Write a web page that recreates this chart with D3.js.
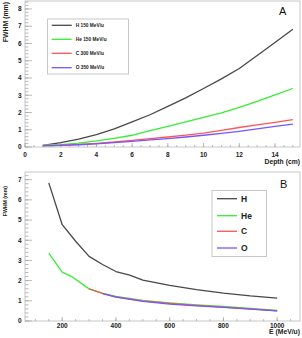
<!DOCTYPE html>
<html><head><meta charset="utf-8">
<script src="https://cdn.jsdelivr.net/npm/d3@7"></script>
<style>body{margin:0;background:#fff}svg{display:block}text{font-family:"Liberation Sans",Arial,sans-serif}</style>
</head><body>
<script>
// Panel A: FWHM vs depth
const depth = [1,2,3,4,5,6,7,8,9,10,11,12,13,14,15];
const aH  = [0.1,0.25,0.45,0.72,1.05,1.45,1.87,2.35,2.85,3.39,3.95,4.55,5.3,6.05,6.82];
const aHe = [0.1,0.14,0.23,0.35,0.5,0.68,0.95,1.2,1.45,1.71,1.98,2.29,2.65,3.02,3.39];
const aC  = [0.08,0.1,0.15,0.21,0.29,0.38,0.48,0.58,0.69,0.81,0.96,1.13,1.28,1.43,1.59];
const aO  = [0.07,0.09,0.13,0.18,0.25,0.33,0.41,0.49,0.58,0.68,0.79,0.91,1.05,1.19,1.32];
const legendA = ["H 150 MeV/u","He 150 MeV/u","C 300 MeV/u","O 350 MeV/u"];
// Panel B: FWHM vs energy
const eH  = [150,200,250,300,350,400,451,500,600,700,800,900,1000];
const bH  = [6.84,4.77,3.95,3.2,2.8,2.45,2.27,2.03,1.76,1.55,1.38,1.24,1.13];
const eHe = [150,200,235,300,350,400,500,600,700,800,900,1000];
const bHe = [3.36,2.42,2.2,1.59,1.37,1.22,1.02,0.9,0.8,0.72,0.62,0.52];
const eC  = [300,350,400,500,600,700,800,900,1000];
const bC  = [1.59,1.37,1.2,1.0,0.87,0.77,0.69,0.6,0.5];
const eO  = [350,400,500,600,700,800,900,1000];
const bO  = [1.35,1.18,0.97,0.84,0.75,0.67,0.59,0.5];
const legendB = ["H","He","C","O"];
const colors = ["#484848","#33ee33","#ff5555","#7755ff"];
const yTicksA = [0,1,2,3,4,5,6,7,8];
const xTicksA = [0,2,4,6,8,10,12,14];
const yTicksB = [0,1,2,3,4,5,6,7];
const xTicksB = [200,400,600,800,1000];

const W=302,H=338;
const svg=d3.select("body").append("svg").attr("width",W).attr("height",H);

function panel(opt){
  const g=svg.append("g");
  const x=d3.scaleLinear().domain(opt.xd).range([opt.x0,opt.x1]);
  const y=d3.scaleLinear().domain(opt.yd).range([opt.y1,opt.y0]);
  g.append("rect").attr("x",opt.x0).attr("y",opt.y0).attr("width",opt.x1-opt.x0).attr("height",opt.y1-opt.y0)
    .attr("fill","none").attr("stroke","#c8c8c8").attr("stroke-width",1);
  const yMinor=d3.range(opt.yd[0],opt.yd[1]+1e-9,opt.yMinorStep);
  g.selectAll(".ym").data(yMinor).join("line")
    .attr("x1",opt.x0).attr("x2",opt.x0+3.5).attr("y1",d=>y(d)).attr("y2",d=>y(d)).attr("stroke","#aaa").attr("stroke-width",0.8);
  g.selectAll(".yM").data(opt.yTicks).join("line")
    .attr("x1",opt.x0).attr("x2",opt.x0+7).attr("y1",d=>y(d)).attr("y2",d=>y(d)).attr("stroke","#aaa").attr("stroke-width",0.8);
  g.selectAll(".yl").data(opt.yTicks).join("text")
    .attr("x",opt.x0-3.5).attr("y",d=>y(d)).attr("dy","0.35em").attr("text-anchor","end")
    .attr("font-size",6.5).attr("font-weight","bold").attr("fill","#222").text(d=>d);
  const xs=Math.ceil(opt.xd[0]/opt.xMinorStep)*opt.xMinorStep;
  const xMinor=d3.range(xs,opt.xd[1]+1e-9,opt.xMinorStep);
  g.selectAll(".xm").data(xMinor).join("line")
    .attr("x1",d=>x(d)).attr("x2",d=>x(d)).attr("y1",opt.y1).attr("y2",opt.y1-2).attr("stroke","#aaa").attr("stroke-width",0.8);
  g.selectAll(".xM").data(opt.xTicks).join("line")
    .attr("x1",d=>x(d)).attr("x2",d=>x(d)).attr("y1",opt.y1).attr("y2",opt.y1-4).attr("stroke","#aaa").attr("stroke-width",0.8);
  g.selectAll(".xl").data(opt.xTicks).join("text")
    .attr("x",d=>x(d)).attr("y",opt.y1+opt.xlOff).attr("text-anchor","middle")
    .attr("font-size",6.5).attr("font-weight","bold").attr("fill","#222").text(d=>d);
  g.append("text").attr("x",opt.x1).attr("y",opt.xtY).attr("text-anchor","end")
    .attr("font-size",6.8).attr("font-weight","bold").attr("fill","#222").text(opt.xTitle);
  g.append("text").attr("transform",`translate(${opt.ytX},${opt.ytY}) rotate(-90)`).attr("text-anchor","end")
    .attr("font-size",opt.ytSize).attr("font-weight","bold").attr("fill","#222").text("FWHM (mm)");
  const line=d3.line().x(d=>x(d[0])).y(d=>y(d[1]));
  opt.series.forEach((s,i)=>{
    g.append("path").datum(d3.zip(s[0],s[1])).attr("d",line).attr("fill","none")
      .attr("stroke",colors[i]).attr("stroke-width",1.3).attr("stroke-linejoin","round");
  });
  g.append("text").attr("x",opt.labX).attr("y",opt.labY).attr("font-size",11).attr("fill","#111").text(opt.label);
  return g;
}

const gA=panel({x0:25,x1:300,y0:1,y1:147,xd:[0,15.4],yd:[0,8.46],yTicks:yTicksA,xTicks:xTicksA,
  yMinorStep:0.2,xMinorStep:0.5,xlOff:10,xTitle:"Depth (cm)",xtY:164,ytX:7.5,ytY:2,ytSize:6.9,
  series:[[depth,aH],[depth,aHe],[depth,aC],[depth,aO]],label:"A",labX:279,labY:15});
const gB=panel({x0:25,x1:300,y0:172,y1:321,xd:[61.5,1085],yd:[0,7.38],yTicks:yTicksB,xTicks:xTicksB,
  yMinorStep:0.2,xMinorStep:50,xlOff:6.5,xTitle:"E (MeV/u)",xtY:334,ytX:7,ytY:186,ytSize:5.2,
  series:[[eH,bH],[eHe,bHe],[eC,bC],[eO,bO]],label:"B",labX:280,labY:188});

function legend(g,bx,by,bw,bh,rows,lx0,lx1,tx,labels,fs){
  g.append("rect").attr("x",bx).attr("y",by).attr("width",bw).attr("height",bh)
    .attr("fill","#fff").attr("stroke","#c8c8c8").attr("stroke-width",1);
  labels.forEach((t,i)=>{
    g.append("line").attr("x1",lx0).attr("x2",lx1).attr("y1",rows[i]).attr("y2",rows[i])
      .attr("stroke",colors[i]).attr("stroke-width",1.3);
    g.append("text").attr("x",tx).attr("y",rows[i]).attr("dy","0.35em").attr("font-size",fs)
      .attr("font-weight","bold").attr("fill","#222").text(t);
  });
}
legend(gA,47.5,19,81,55,[25.3,39.3,53.3,67.7],51.7,71.7,75.7,legendA,4.8);
legend(gB,212,190.5,54.5,66,[198.7,215.7,231.3,248],217,237,241,legendB,8.5);
</script>
</body></html>
